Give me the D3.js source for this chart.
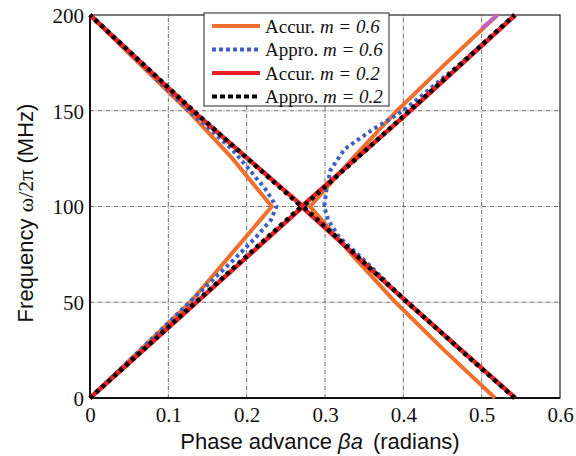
<!DOCTYPE html>
<html lang="en">
<head>
    <meta charset="UTF-8">
    <title>Phase advance vs frequency</title>
    <script src="https://d3js.org/d3.v7.min.js"></script>
    <style>
        body { margin: 0; background: #fff; }
        svg text { fill: #111; }
    </style>
</head>
<body>
<div id="chart"></div>

<script>
// frequency samples (MHz) and phase advance (radians)
const freq = [0, 25, 50, 75, 100, 125, 150, 175, 200];
const accur06Left  = [0, 0.064, 0.128, 0.180, 0.232, 0.182, 0.125, 0.062, 0];
const accur06Right = [0.517, 0.452, 0.390, 0.334, 0.281, 0.335, 0.392, 0.455, 0.520];
const accur06TailFreq  = [193, 200];
const accur06TailPhase = [0.500, 0.520];

const approxFreq = [0, 25, 50, 72, 84, 93, 100, 109, 119, 130, 140, 150, 175, 200];
const approx06Left  = [0, 0.064, 0.127, 0.183, 0.212, 0.231, 0.238, 0.224, 0.204, 0.181, 0.154, 0.126, 0.064, 0];
const approx06Right = [0.542, 0.473, 0.405, 0.350, 0.318, 0.304, 0.299, 0.302, 0.307, 0.325, 0.360, 0.400, 0.474, 0.542];

const freq02 = [0, 50, 100, 150, 200];
const accur02Left  = [0, 0.136, 0.272, 0.131, 0];
const accur02Right = [0.543, 0.405, 0.270, 0.409, 0.543];
const approx02Left  = [0, 0.135, 0.270, 0.132, 0];
const approx02Right = [0.542, 0.405, 0.272, 0.408, 0.542];

const xTicks = [0, 0.1, 0.2, 0.3, 0.4, 0.5, 0.6];
const yTicks = [0, 50, 100, 150, 200];

const width = 576, height = 456;
const margin = {left: 90, right: 16, top: 15, bottom: 58};

const svg = d3.select("#chart").append("svg")
    .attr("width", width)
    .attr("height", height);

const x = d3.scaleLinear().domain([0, 0.6]).range([margin.left, width - margin.right]);
const y = d3.scaleLinear().domain([0, 200]).range([height - margin.bottom, margin.top]);

// grid
const grid = svg.append("g").attr("stroke", "#444").attr("stroke-width", 0.8)
    .attr("stroke-dasharray", "4,1.5,1,1.5");
grid.selectAll(".gx").data(xTicks.slice(1, -1)).join("line")
    .attr("x1", d => x(d)).attr("x2", d => x(d))
    .attr("y1", y(0)).attr("y2", y(200));
grid.selectAll(".gy").data(yTicks.slice(1, -1)).join("line")
    .attr("x1", x(0)).attr("x2", x(0.6))
    .attr("y1", d => y(d)).attr("y2", d => y(d));

// frame
svg.append("rect")
    .attr("x", x(0)).attr("y", y(200))
    .attr("width", x(0.6) - x(0)).attr("height", y(0) - y(200))
    .attr("fill", "none").attr("stroke", "#222").attr("stroke-width", 1.2);
svg.append("line").attr("x1", x(0)).attr("x2", x(0)).attr("y1", y(0)).attr("y2", y(200))
    .attr("stroke", "#111").attr("stroke-width", 2);
svg.append("line").attr("x1", x(0)).attr("x2", x(0.6)).attr("y1", y(0)).attr("y2", y(0))
    .attr("stroke", "#111").attr("stroke-width", 2);

// axes
const xAxis = svg.append("g").attr("transform", `translate(0,${y(0)})`)
    .call(d3.axisBottom(x).tickValues(xTicks).tickSize(0).tickPadding(9).tickFormat(d => d === 0 ? "0" : d3.format(".1f")(d)));
const yAxis = svg.append("g").attr("transform", `translate(${x(0)},0)`)
    .call(d3.axisLeft(y).tickValues(yTicks).tickSize(0).tickPadding(6));
[xAxis, yAxis].forEach(a => {
    a.select(".domain").remove();
    a.selectAll("text").attr("font-family", "Liberation Serif, serif").attr("font-size", 21).attr("fill", "#111");
});
yAxis.selectAll("text").attr("dy", "0.35em");

// curves
const line = (fs, ps) => d3.line()(fs.map((f, i) => [x(ps[i]), y(f)]));

const series = [
    {f: freq, p: accur06Left, color: "#ef6f2e", dash: null, w: 4},
    {f: freq, p: accur06Right, color: "#ef6f2e", dash: null, w: 4},
    {f: accur06TailFreq, p: accur06TailPhase, color: "#c062c0", dash: null, w: 4},
    {f: approxFreq, p: approx06Left, color: "#3b5fc4", dash: "3.5,3.5", w: 4},
    {f: approxFreq, p: approx06Right, color: "#3b5fc4", dash: "3.5,3.5", w: 4},
    {f: freq02, p: accur02Left, color: "#ec1f24", dash: null, w: 4.5},
    {f: freq02, p: accur02Right, color: "#ec1f24", dash: null, w: 4.5},
    {f: freq02, p: approx02Left, color: "#000", dash: "4,4", w: 4.5},
    {f: freq02, p: approx02Right, color: "#000", dash: "4,4", w: 4.5}
];
svg.append("g").selectAll("path").data(series).join("path")
    .attr("d", d => line(d.f, d.p))
    .attr("fill", "none")
    .attr("stroke", d => d.color)
    .attr("stroke-width", d => d.w)
    .attr("stroke-dasharray", d => d.dash)
    .attr("stroke-linejoin", "miter");

// legend
const legendItems = [
    {label: "Accur.", m: "0.6", color: "#ef6f2e", dash: null},
    {label: "Appro.", m: "0.6", color: "#3b5fc4", dash: "4,3"},
    {label: "Accur.", m: "0.2", color: "#ec1f24", dash: null},
    {label: "Appro.", m: "0.2", color: "#000", dash: "5,3"}
];
const lg = svg.append("g").attr("transform", "translate(204,13)");
lg.append("rect").attr("width", 185).attr("height", 93)
    .attr("fill", "#fff").attr("stroke", "#222").attr("stroke-width", 1);
const rows = lg.selectAll(".row").data(legendItems).join("g")
    .attr("transform", (d, i) => `translate(0,${13 + i * 23.5})`);
rows.append("line").attr("x1", 8).attr("x2", 56)
    .attr("stroke", d => d.color).attr("stroke-width", 4)
    .attr("stroke-dasharray", d => d.dash);
const lt = rows.append("text").attr("x", 61).attr("dy", "0.35em")
    .attr("font-family", "Liberation Serif, serif").attr("font-size", 19);
lt.append("tspan").text(d => d.label + " ");
lt.append("tspan").attr("font-style", "italic").text(d => `m = ${d.m}`);

// axis titles
const xt = svg.append("text").attr("x", 320).attr("y", 449).attr("text-anchor", "middle")
    .attr("font-family", "Liberation Sans, Arial, sans-serif").attr("font-size", 22);
xt.append("tspan").text("Phase advance ");
xt.append("tspan").attr("font-style", "italic").text("βa");
xt.append("tspan").attr("dx", 10).text("(radians)");

const yt = svg.append("text").attr("transform", "translate(33,213) rotate(-90)")
    .attr("text-anchor", "middle")
    .attr("font-family", "Liberation Sans, Arial, sans-serif").attr("font-size", 22);
yt.append("tspan").text("Frequency ");
yt.append("tspan").attr("font-family", "Liberation Serif, serif").text("ω/2π");
yt.append("tspan").text(" (MHz)");
</script>

</body>
</html>
